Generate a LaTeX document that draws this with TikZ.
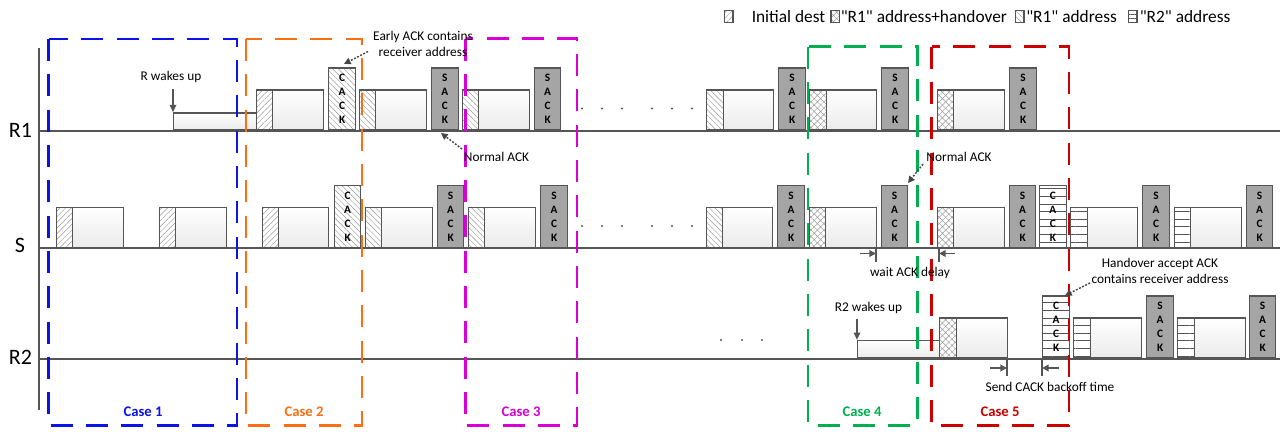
\documentclass[tikz,border=0pt]{standalone}
\usepackage{fontspec}
\setmainfont{Carlito}[Ligatures=TeXOff]
\usetikzlibrary{patterns.meta,arrows.meta}
\definecolor{edge}{RGB}{85,85,85}
\definecolor{cblue}{RGB}{10,20,230}
\definecolor{corange}{RGB}{250,110,20}
\definecolor{cmag}{RGB}{215,0,215}
\definecolor{cgreen}{RGB}{0,176,80}
\definecolor{cred}{RGB}{205,0,0}
\definecolor{sackgray}{RGB}{165,165,165}
\tikzset{
  blk/.style={draw=edge, line width=1pt, inner sep=0pt, anchor=south west},
  hfill/.style={pattern={Lines[angle=45,distance=3pt,line width=0.35pt]}, pattern color=gray!80},
  bfill/.style={pattern={Lines[angle=-45,distance=3pt,line width=0.35pt]}, pattern color=gray!80},
  xfill/.style={pattern={Hatch[angle=45,distance=3.4pt,line width=0.35pt]}, pattern color=gray!80},
  lfill/.style={pattern={Lines[angle=0,distance=5.7pt,line width=0.6pt]}, pattern color=edge},
  lgfill/.style={pattern={Lines[angle=0,distance=3.1pt,line width=0.4pt]}, pattern color=edge},
  bodyfill/.style={top color=white, bottom color=gray!16},
  sackfill/.style={fill=sackgray},
  ackfont/.style={font=\bfseries\fontsize{8.5}{10.5}\selectfont, align=center},
  axisline/.style={draw=edge, line width=1.5pt},
  baseln/.style={draw=edge, line width=1.5pt},
  casebox/.style={line width=1.6pt, dash pattern=on 16.5pt off 10pt},
  caselabel/.style={font=\bfseries\fontsize{11}{13}\selectfont},
  ann/.style={font=\fontsize{10}{12}\selectfont, align=center, inner sep=0pt},
  legendtxt/.style={font=\fontsize{13}{15}\selectfont, anchor=west, inner sep=0pt},
  rowlabel/.style={font=\fontsize{16.5}{18}\selectfont, inner sep=0pt},
  dotarrow/.style={draw=gray!55!black, line width=1.1pt, dash pattern=on 1.4pt off 1.2pt, -{Triangle[length=5pt,width=5pt]}},
  wakearrow/.style={draw=edge, line width=0.9pt, -{Triangle[length=5.5pt,width=5pt]}},
  ivarrow/.style={draw=edge, line width=1.3pt, -{Triangle[length=5pt,width=5pt]}},
  tickln/.style={draw=edge, line width=1pt},
}
% packet: name, hatch style, x0, x1 (end of hatch), x2 (end of body), baseline
\newcommand\pk[6]{%
  \node[blk,#2,minimum width={(#4-#3)*0.75pt},minimum height=30pt] (#1h) at (#3,#6) {};
  \node[blk,bodyfill,minimum width={(#5-#4)*0.75pt},minimum height=30pt] (#1) at (#4,#6) {};
}
% ack: name, fill style, x0, x1, baseline, first letter
\newcommand\ak[6]{%
  \node[blk,#2,ackfont,minimum width={(#4-#3)*0.75pt},minimum height=46.5pt] (#1) at (#3,#5) {#6\\A\\C\\K};
}
\begin{document}
\begin{tikzpicture}[x=0.75pt,y=-0.75pt]
\useasboundingbox (0,0) rectangle (1283,432);

% ---------- legend ----------
\node[blk,anchor=center,hfill,minimum width=6.5pt,minimum height=9.2pt] (lg1) at (728.5,16.5) {};
\node[legendtxt] (lt1) at (751.5,16.5) {Initial dest};
\node[blk,anchor=center,xfill,minimum width=6.5pt,minimum height=9.2pt] (lg2) at (835.3,16.5) {};
\node[legendtxt] (lt2) at (840.5,16.5) {"R1" address+handover};
\node[blk,anchor=center,bfill,minimum width=6.5pt,minimum height=9.2pt] (lg3) at (1019.7,16.5) {};
\node[legendtxt] (lt3) at (1026,16.5) {"R1" address};
\node[blk,anchor=center,lgfill,minimum width=6.5pt,minimum height=9.2pt] (lg4) at (1132.8,16.5) {};
\node[legendtxt] (lt4) at (1139.5,16.5) {"R2" address};

% ---------- axes ----------
\coordinate (ax0) at (39,48); \coordinate (ax1) at (39,410);
\draw[axisline] (ax0) -- (ax1);
\coordinate (r1s) at (39,130.5); \coordinate (r1e) at (1280,130.5);
\coordinate (ss) at (39,248); \coordinate (se) at (1280,248);
\coordinate (r2s) at (39,358.5); \coordinate (r2e) at (1280,358.5);
\draw[baseln] (r1s) -- (r1e);
\draw[baseln] (ss) -- (se);
\draw[baseln] (r2s) -- (r2e);
\node[rowlabel] (lR1) at (20.5,130) {R1};
\node[rowlabel] (lS) at (20,245) {S};
\node[rowlabel] (lR2) at (20.5,357) {R2};

% ---------- R1 row ----------
\node[blk,bodyfill,minimum width={(256-173)*0.75pt},minimum height=12.75pt] (wake1) at (173,130.5) {};
\pk{a1}{hfill}{256}{272}{323}{130.5}
\ak{a2}{bfill}{328}{355}{130.5}{C}
\pk{a3}{bfill}{359}{375}{426}{130.5}
\ak{a4}{sackfill}{431}{457.5}{130.5}{S}
\pk{a5}{bfill}{462}{478}{529}{130.5}
\ak{a6}{sackfill}{534}{560}{130.5}{S}
\foreach \dx in {582,602,622,652,672,692} \fill[edge] (\dx,108.5) circle (0.9pt);
\pk{a7}{bfill}{706}{722.5}{773}{130.5}
\ak{a8}{sackfill}{778}{805}{130.5}{S}
\pk{a9}{xfill}{809}{826}{876}{130.5}
\ak{a10}{sackfill}{881}{908}{130.5}{S}
\pk{a11}{xfill}{937}{953}{1004}{130.5}
\ak{a12}{sackfill}{1009}{1036}{130.5}{S}

% ---------- S row ----------
\pk{s1}{hfill}{56}{72}{123}{248}
\pk{s2}{hfill}{159}{175}{226}{248}
\pk{s3}{hfill}{262}{278}{328}{248}
\ak{s4}{bfill}{334}{360}{248}{C}
\pk{s5}{bfill}{365}{381}{432}{248}
\ak{s6}{sackfill}{437}{463}{248}{S}
\pk{s7}{bfill}{468}{484}{535}{248}
\ak{s8}{sackfill}{540}{567}{248}{S}
\foreach \dx in {582,602,622,652,672,692} \fill[edge] (\dx,226) circle (0.9pt);
\pk{s9}{bfill}{706}{722}{772}{248}
\ak{s10}{sackfill}{777}{804}{248}{S}
\pk{s11}{xfill}{809}{825}{876}{248}
\ak{s12}{sackfill}{881}{907}{248}{S}
\pk{s13}{xfill}{937}{953}{1004}{248}
\ak{s14}{sackfill}{1009}{1035}{248}{S}
\ak{s15}{lfill}{1039}{1066}{248}{C}
\pk{s16}{lfill}{1070}{1087}{1137}{248}
\ak{s17}{sackfill}{1142}{1169}{248}{S}
\pk{s18}{lfill}{1174}{1190}{1241}{248}
\ak{s19}{sackfill}{1246}{1272}{248}{S}

% ---------- R2 row ----------
\foreach \dx in {721,742,762} \fill[edge] (\dx,340) circle (0.9pt);
\node[blk,bodyfill,minimum width={(939-857)*0.75pt},minimum height=13pt] (wake2) at (857,358.5) {};
\pk{b1}{xfill}{939}{956}{1007}{358.5}
\ak{b2}{lfill}{1042}{1069}{358.5}{C}
\pk{b3}{lfill}{1073}{1090}{1141}{358.5}
\ak{b4}{sackfill}{1146}{1173}{358.5}{S}
\pk{b5}{lfill}{1177}{1194}{1245}{358.5}
\ak{b6}{sackfill}{1249}{1275}{358.5}{S}

% ---------- case boxes ----------
\draw[casebox,cblue] (48.5,39) rectangle (237,425.5);
\draw[casebox,corange] (246,39) rectangle (362,425.5);
\draw[casebox,cmag] (465.5,38.5) rectangle (577,425.5);
\draw[casebox,cgreen] (808,46.5) rectangle (917.5,425.5);
\draw[casebox,cred] (931.5,46.5) rectangle (1069,425.5);
\node[caselabel,text=cblue] (c1) at (143,411.5) {Case 1};
\node[caselabel,text=corange] (c2) at (304,411.5) {Case 2};
\node[caselabel,text=cmag] (c3) at (521,411.5) {Case 3};
\node[caselabel,text=cgreen] (c4) at (862,411.5) {Case 4};
\node[caselabel,text=cred] (c5) at (1000,411.5) {Case 5};

% ---------- annotations ----------
\node[ann] (rw) at (171,76.5) {R wakes up};
\coordinate (rwt) at (173,89);
\draw[wakearrow] (rwt) -- (wake1.north west);

\node[ann] (early) at (423,44) {Early ACK contains\\receiver address};
\coordinate (earlyt) at (368,51.5);
\coordinate (earlyh) at (344,64);
\draw[dotarrow] (earlyt) -- (earlyh);

\node[ann] (n1) at (496.5,157) {Normal ACK};
\coordinate (n1t) at (462,149);
\coordinate (n1h) at (441,133);
\draw[dotarrow] (n1t) -- (n1h);

\node[ann] (n2) at (959,157) {Normal ACK};
\coordinate (n2t) at (923,164);
\coordinate (n2h) at (908,183);
\draw[dotarrow] (n2t) -- (n2h);

% wait ACK delay
\coordinate (w1a) at (876,248); \coordinate (w1b) at (876,262);
\coordinate (w2a) at (939,248); \coordinate (w2b) at (939,262);
\draw[tickln] (w1a) -- (w1b);
\draw[tickln] (w2a) -- (w2b);
\coordinate (w1s) at (860,253.5); \coordinate (w1e) at (876,253.5);
\coordinate (w2s) at (955,253.5); \coordinate (w2e) at (939,253.5);
\draw[ivarrow] (w1s) -- (w1e);
\draw[ivarrow] (w2s) -- (w2e);
\node[ann] (wait) at (910,272.5) {wait ACK delay};

% handover
\node[ann] (ho) at (1160,271) {Handover accept ACK\\contains receiver address};
\coordinate (hot) at (1090,283);
\coordinate (hoh) at (1065,295.5);
\draw[dotarrow] (hot) -- (hoh);

% R2 wakes up
\node[ann] (r2w) at (868.5,308) {R2 wakes up};
\coordinate (r2wt) at (857,319);
\draw[wakearrow] (r2wt) -- (wake2.north west);

% Send CACK backoff time
\coordinate (k1a) at (1007,358.5); \coordinate (k1b) at (1007,376);
\coordinate (k2a) at (1042,358.5); \coordinate (k2b) at (1042,376);
\draw[tickln] (k1a) -- (k1b);
\draw[tickln] (k2a) -- (k2b);
\coordinate (k1s) at (990,368); \coordinate (k1e) at (1007,368);
\coordinate (k2s) at (1059,368); \coordinate (k2e) at (1042,368);
\draw[ivarrow] (k1s) -- (k1e);
\draw[ivarrow] (k2s) -- (k2e);
\node[ann] (send) at (1050,386.5) {Send CACK backoff time};
\end{tikzpicture}
\end{document}
